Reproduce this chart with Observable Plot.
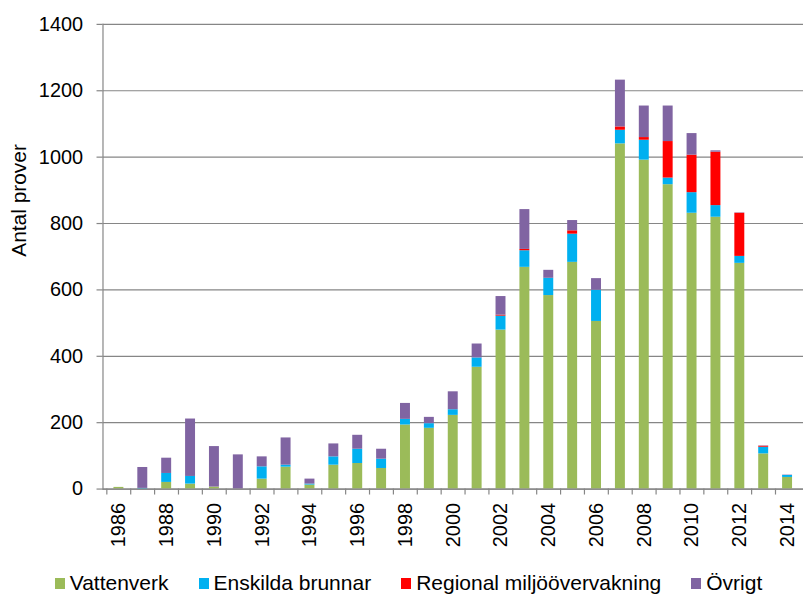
<!DOCTYPE html>
<html>
<head>
<meta charset="utf-8">
<script src="https://cdn.jsdelivr.net/npm/d3@7"></script>
<script src="https://cdn.jsdelivr.net/npm/@observablehq/plot@0.6"></script>
<style>
  html, body { margin: 0; padding: 0; background: #fff; overflow: hidden; width: 803px; height: 594px; }
  body { font-family: "Liberation Sans", Arial, sans-serif; position: relative; }
  #chart { position: absolute; left: 0; top: 0; }
  #legend { position: absolute; left: 0; top: 571px; width: 803px; display: flex; justify-content: center; padding-left: 14px; box-sizing: border-box; font-size: 21px; line-height: 24px; color: #000; }
  .item { display: flex; align-items: center; margin: 0 15px; white-space: nowrap; }
  .sw { width: 10px; height: 11px; margin-right: 5px; display: inline-block; }
</style>
</head>
<body>
<div id="chart"></div>
<div id="legend"></div>
<script>
const years = [1986,1987,1988,1989,1990,1991,1992,1993,1994,1995,1996,1997,1998,1999,2000,
               2001,2002,2003,2004,2005,2006,2007,2008,2009,2010,2011,2012,2013,2014];
const seriesNames = ["Vattenverk", "Enskilda brunnar", "Regional miljöövervakning", "Övrigt"];
const seriesColors = ["#9BBB59", "#00B0F0", "#FF0000", "#8064A2"];
const vattenverk = [5,0,20,15,6,0,30,66,12,72,77,62,193,183,222,367,479,668,583,683,505,1040,991,917,831,819,680,106,35];
const enskilda   = [0,2,27,23,0,0,37,6,3,25,43,28,17,14,17,28,42,50,52,85,94,41,60,20,62,35,21,20,6];
const regional   = [0,0,0,0,0,0,0,0,0,0,0,0,0,0,0,0,3,4,0,10,0,10,8,110,113,161,130,3,0];
const ovrigt     = [0,63,46,173,122,103,30,82,15,39,42,30,48,19,54,42,56,120,24,31,35,141,95,107,65,4,1,1,1];
const yTicks = [0,200,400,600,800,1000,1200,1400];
const xTickLabels = years.filter(y => y % 2 === 0);

const seriesValues = [vattenverk, enskilda, regional, ovrigt];
const data = [];
seriesNames.forEach((s, i) => {
  years.forEach((y, j) => data.push({year: y, series: s, value: seriesValues[i][j]}));
});

const W = 807, ML = 103, MR = 0;
const bw = (W - ML - MR) / years.length;
const gray = "#868686";

const plot = Plot.plot({
  width: W,
  height: 560,
  marginLeft: ML,
  marginRight: MR,
  marginTop: 24,
  marginBottom: 69,
  style: {fontFamily: "'Liberation Sans', Arial, sans-serif", fontSize: "20px", color: "#000", background: "transparent"},
  x: {type: "band", domain: years, paddingInner: 0.588, paddingOuter: 0.294, align: 0.5},
  y: {domain: [0, 1400]},
  color: {domain: seriesNames, range: seriesColors},
  marks: [
    Plot.ruleY(yTicks, {stroke: gray, strokeWidth: 1.2, strokeOpacity: 1}),
    Plot.barY(data, {x: "year", y: "value", fill: "series", order: seriesNames}),
    Plot.ruleY([0], {stroke: gray, strokeWidth: 1.2}),
    Plot.frame({anchor: "left", stroke: gray, strokeWidth: 1.2}),
    Plot.axisY({ticks: yTicks, tickSize: 6, tickPadding: 14, tickFormat: d => String(d), stroke: gray, strokeOpacity: 1, strokeWidth: 1.2, fontSize: 20, fill: "#000", label: null}),
    Plot.axisX({ticks: years, tickSize: 6, tickFormat: () => "", dx: -bw / 2, stroke: gray, strokeOpacity: 1, strokeWidth: 1.2, label: null}),
    Plot.axisX({ticks: xTickLabels, tickSize: 0, tickPadding: 14, tickRotate: -90, tickFormat: d => String(d), fontSize: 20, fill: "#000", label: null}),
    Plot.text(["Antal prover"], {frameAnchor: "left", rotate: -90, dx: -84, fontSize: 21, fill: "#000"})
  ]
});
document.getElementById("chart").appendChild(plot);

const legend = document.getElementById("legend");
seriesNames.forEach((s, i) => {
  const item = document.createElement("div");
  item.className = "item";
  const sw = document.createElement("span");
  sw.className = "sw";
  sw.style.background = seriesColors[i];
  const t = document.createElement("span");
  t.textContent = s;
  item.appendChild(sw);
  item.appendChild(t);
  legend.appendChild(item);
});
</script>
</body>
</html>
